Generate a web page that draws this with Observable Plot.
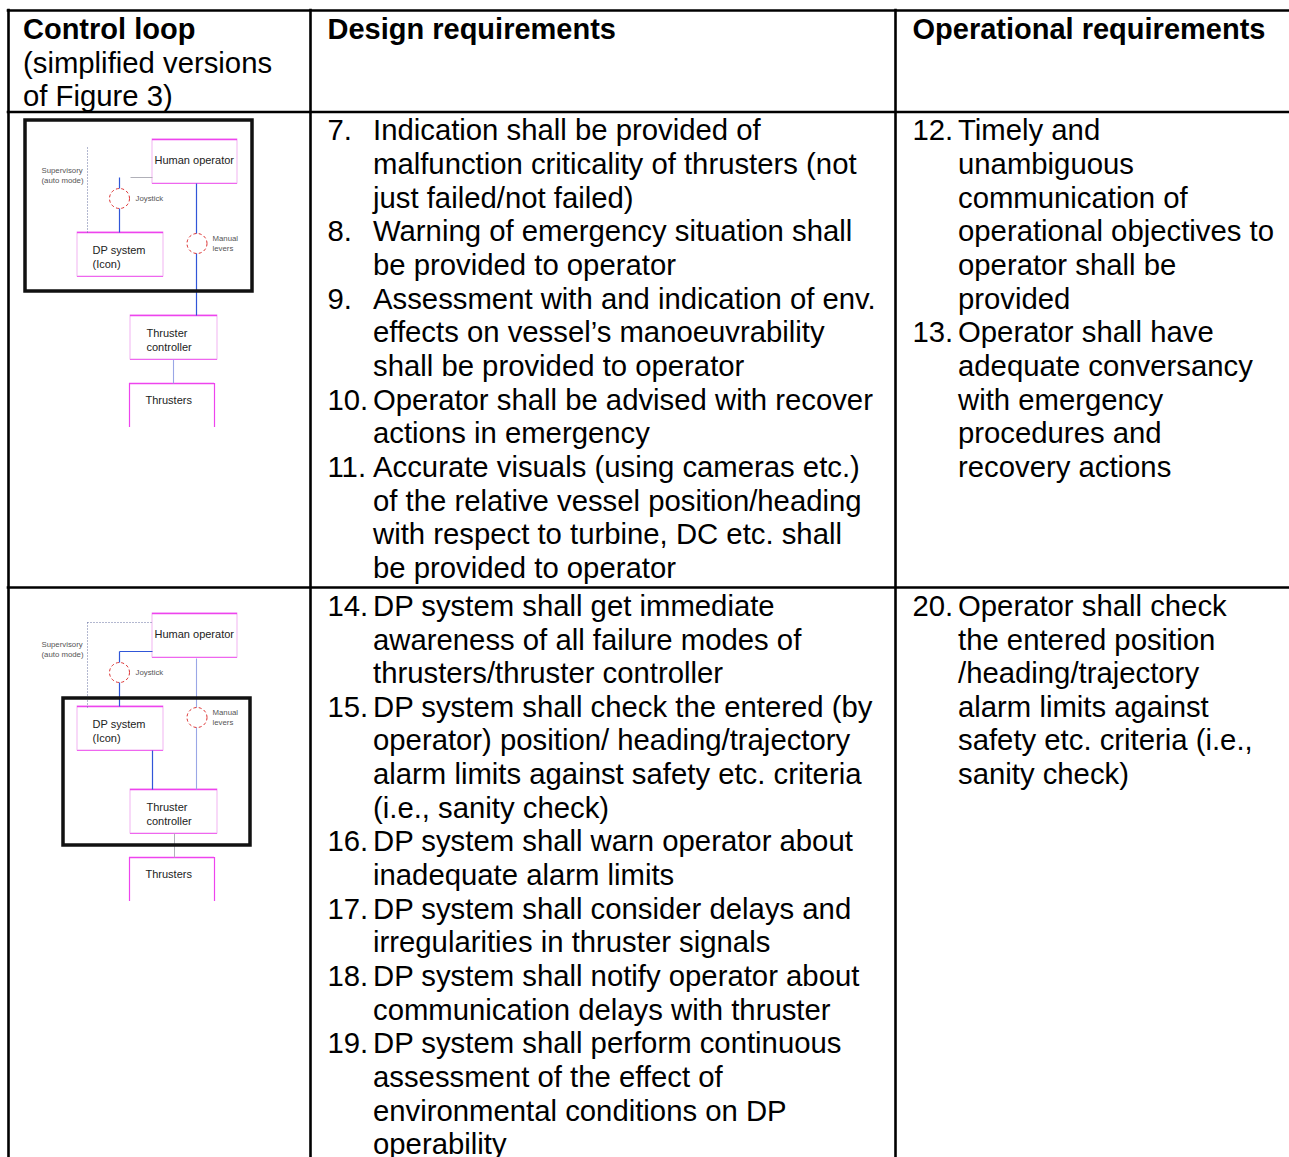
<!DOCTYPE html>
<html><head><meta charset="utf-8">
<script src="https://cdn.jsdelivr.net/npm/d3@7"></script>
<script src="https://cdn.jsdelivr.net/npm/@observablehq/plot@0.6"></script>
<style>html,body{margin:0;padding:0;background:#fff;} #chart svg{display:block}</style>
</head><body><div id="chart"></div>
<script>
// ---------- table content ----------
const headerTitles = ["Control loop", "Design requirements", "Operational requirements"];
const headerSubtitle = ["(simplified versions", "of Figure 3)"];

const designRow1 = [
  {num: "7.", lines: ["Indication shall be provided of", "malfunction criticality of thrusters (not", "just failed/not failed)"]},
  {num: "8.", lines: ["Warning of emergency situation shall", "be provided to operator"]},
  {num: "9.", lines: ["Assessment with and indication of env.", "effects on vessel\u2019s manoeuvrability", "shall be provided to operator"]},
  {num: "10.", lines: ["Operator shall be advised with recover", "actions in emergency"]},
  {num: "11.", lines: ["Accurate visuals (using cameras etc.)", "of the relative vessel position/heading", "with respect to turbine, DC etc. shall", "be provided to operator"]}
];
const operationalRow1 = [
  {num: "12.", lines: ["Timely and", "unambiguous", "communication of", "operational objectives to", "operator shall be", "provided"]},
  {num: "13.", lines: ["Operator shall have", "adequate conversancy", "with emergency", "procedures and", "recovery actions"]}
];
const designRow2 = [
  {num: "14.", lines: ["DP system shall get immediate", "awareness of all failure modes of", "thrusters/thruster controller"]},
  {num: "15.", lines: ["DP system shall check the entered (by", "operator) position/ heading/trajectory", "alarm limits against safety etc. criteria", "(i.e., sanity check)"]},
  {num: "16.", lines: ["DP system shall warn operator about", "inadequate alarm limits"]},
  {num: "17.", lines: ["DP system shall consider delays and", "irregularities in thruster signals"]},
  {num: "18.", lines: ["DP system shall notify operator about", "communication delays with thruster"]},
  {num: "19.", lines: ["DP system shall perform continuous", "assessment of the effect of", "environmental conditions on DP", "operability"]}
];
const operationalRow2 = [
  {num: "20.", lines: ["Operator shall check", "the entered position", "/heading/trajectory", "alarm limits against", "safety etc. criteria (i.e.,", "sanity check)"]}
];

// ---------- diagram content (simplified control loop) ----------
const diagramBoxes = [
  {name: "human", label: ["Human operator"]},
  {name: "dp", label: ["DP system", "(Icon)"]},
  {name: "tc", label: ["Thruster", "controller"]},
  {name: "thr", label: ["Thrusters"]}
];
const diagramSmallLabels = [
  {name: "sup", label: ["Supervisory", "(auto mode)"]},
  {name: "joy", label: ["Joystick"]},
  {name: "man", label: ["Manual", "levers"]}
];
// which block the thick "focus" frame surrounds in each row
const focusPerRow = ["operator", "dpsystem"];

// ---------- layout ----------
const W = 1289, H = 1157;
const colX = [8, 310, 895, 1300];
const rowY = [10, 111.5, 587, 1175];
const colPad = [14.5, 17, 17];
const indent = 45.5;
const lineH = 33.65;
const firstLine = 19;
const fsReg = 29.3, fsBold = 29;

// diagram geometry (local, row offset added later)
const boxGeom = {
  human: {x1: 152, x2: 237, y1: 139, y2: 183, tx: 154, ty: 160},
  dp:    {x1: 77,  x2: 163, y1: 232, y2: 276, tx: 92,  ty: 250},
  tc:    {x1: 130, x2: 217, y1: 315, y2: 359, tx: 146, ty: 333},
  thr:   {x1: 129, x2: 214, y1: 383, y2: 427, tx: 145, ty: 400, open: true}
};
const smallGeom = {sup: {tx: 41, ty: 170}, joy: {tx: 135, ty: 198}, man: {tx: 212, ty: 238}};
const focusGeom = {
  operator: {x1: 25, x2: 252, y1: 120, y2: 291},
  dpsystem: {x1: 63, x2: 250, y1: 224, y2: 371}
};
const rowOffset = [0, 474];

const textReg = [], textBold = [];
// header
headerTitles.forEach((t, c) => textBold.push({x: colX[c] + colPad[c], y: rowY[0] + firstLine, text: t}));
headerSubtitle.forEach((t, i) => textReg.push({x: colX[0] + colPad[0], y: rowY[0] + firstLine + (i + 1) * lineH, text: t}));
function addItems(items, c, r) {
  let k = 0;
  const x0 = colX[c] + colPad[c];
  items.forEach(it => {
    textReg.push({x: x0, y: rowY[r] + firstLine + k * lineH, text: it.num});
    it.lines.forEach(l => {
      textReg.push({x: x0 + indent, y: rowY[r] + firstLine + k * lineH, text: l});
      k++;
    });
  });
}
addItems(designRow1, 1, 1);
addItems(operationalRow1, 2, 1);
addItems(designRow2, 1, 2);
addItems(operationalRow2, 2, 2);

// table rules
const hRules = [
  {y: rowY[0], x1: colX[0] - 1.3, x2: W},
  {y: rowY[1], x1: colX[0] - 1.3, x2: W},
  {y: rowY[2], x1: colX[0] - 1.3, x2: W}
];
const vRules = [0, 1, 2].map(c => ({x: colX[c], y1: rowY[0] - 1.3, y2: H}));

// diagram data
const rects = [], topEdges = [], sideEdges = [], boxText = [], smallText = [], focus = [], circles = [];
const blueLinks = [], paleLinks = [], grayLinks = [], dotLinks = [];
rowOffset.forEach((off, r) => {
  diagramBoxes.forEach(b => {
    const g = boxGeom[b.name];
    if (!g.open) rects.push({x1: g.x1, x2: g.x2, y1: g.y1 + off, y2: g.y2 + off});
    topEdges.push({y: g.y1 + off, x1: g.x1, x2: g.x2});
    if (!g.open) topEdges.push({y: g.y2 + off, x1: g.x1, x2: g.x2, faint: true});
    if (g.open) { sideEdges.push({x: g.x1, y1: g.y1 + off, y2: g.y2 + off}); sideEdges.push({x: g.x2, y1: g.y1 + off, y2: g.y2 + off}); }
    b.label.forEach((t, i) => boxText.push({x: g.tx, y: g.ty + off + i * 13.5, text: t}));
  });
  diagramSmallLabels.forEach(s => {
    const g = smallGeom[s.name];
    s.label.forEach((t, i) => smallText.push({x: g.tx, y: g.ty + off + i * 9.5, text: t}));
  });
  const f = focusGeom[focusPerRow[r]];
  focus.push({x1: f.x1, x2: f.x2, y1: f.y1 + off, y2: f.y2 + off});
  circles.push({x: 119, y: 198 + off}, {x: 196.5, y: 243 + off});
  if (r === 0) {
    dotLinks.push({x1: 87, y1: 147 + off, x2: 87, y2: 232 + off});
    grayLinks.push({x1: 130, y1: 177 + off, x2: 152, y2: 177 + off});
    blueLinks.push({x1: 119, y1: 177 + off, x2: 119, y2: 232 + off});
    blueLinks.push({x1: 196, y1: 183 + off, x2: 196, y2: 315 + off});
    paleLinks.push({x1: 173, y1: 359 + off, x2: 173, y2: 383 + off});
  } else {
    dotLinks.push({x1: 87, y1: 148 + off, x2: 152, y2: 148 + off});
    dotLinks.push({x1: 87, y1: 148 + off, x2: 87, y2: 233 + off});
    blueLinks.push({x1: 152, y1: 177 + off, x2: 119, y2: 177 + off});
    blueLinks.push({x1: 119, y1: 177 + off, x2: 119, y2: 232 + off});
    blueLinks.push({x1: 152, y1: 276 + off, x2: 152, y2: 315 + off});
    paleLinks.push({x1: 196, y1: 184 + off, x2: 196, y2: 315 + off});
    grayLinks.push({x1: 174, y1: 359 + off, x2: 174, y2: 383 + off});
  }
});

const font = "Liberation Sans, Arial, Helvetica, sans-serif";
const chart = Plot.plot({
  width: W, height: H,
  margin: 0,
  x: {domain: [0, W], range: [0, W], axis: null},
  y: {domain: [0, H], range: [0, H], axis: null},
  style: {fontFamily: font, background: "#fff"},
  marks: [
    // diagrams
    Plot.rect(rects, {x1: "x1", x2: "x2", y1: "y1", y2: "y2", fill: "none", stroke: "#f1b3f1", strokeWidth: 1}),
    Plot.ruleY(topEdges.filter(d => !d.faint), {y: "y", x1: "x1", x2: "x2", stroke: "#ee44ee", strokeWidth: 1.3}),
    Plot.ruleY(topEdges.filter(d => d.faint), {y: "y", x1: "x1", x2: "x2", stroke: "#ef66ef", strokeWidth: 1.1}),
    Plot.ruleX(sideEdges, {x: "x", y1: "y1", y2: "y2", stroke: "#ee44ee", strokeWidth: 1.2}),
    Plot.link(dotLinks, {x1: "x1", y1: "y1", x2: "x2", y2: "y2", stroke: "#6670a0", strokeWidth: 1, strokeDasharray: "1,2"}),
    Plot.link(grayLinks, {x1: "x1", y1: "y1", x2: "x2", y2: "y2", stroke: "#b0b0b8", strokeWidth: 1}),
    Plot.link(paleLinks, {x1: "x1", y1: "y1", x2: "x2", y2: "y2", stroke: "#9aa6e6", strokeWidth: 1.1}),
    Plot.link(blueLinks, {x1: "x1", y1: "y1", x2: "x2", y2: "y2", stroke: "#3056d8", strokeWidth: 1.2}),
    Plot.dot(circles, {x: "x", y: "y", r: 10, fill: "#fff", stroke: "#dd3333", strokeWidth: 1, strokeDasharray: "3,2.4"}),
    Plot.rect(focus, {x1: "x1", x2: "x2", y1: "y1", y2: "y2", fill: "none", stroke: "#111", strokeWidth: 3.5}),
    Plot.text(boxText, {x: "x", y: "y", text: "text", textAnchor: "start", lineAnchor: "middle", fontSize: 11, fill: "#222"}),
    Plot.text(smallText, {x: "x", y: "y", text: "text", textAnchor: "start", lineAnchor: "middle", fontSize: 7.8, fill: "#555"}),
    // table
    Plot.ruleY(hRules, {y: "y", x1: "x1", x2: "x2", stroke: "#000", strokeWidth: 2.6}),
    Plot.ruleX(vRules, {x: "x", y1: "y1", y2: "y2", stroke: "#000", strokeWidth: 2.6}),
    Plot.text(textBold, {x: "x", y: "y", text: "text", textAnchor: "start", lineAnchor: "middle", fontSize: fsBold, fontWeight: "bold", fill: "#000"}),
    Plot.text(textReg, {x: "x", y: "y", text: "text", textAnchor: "start", lineAnchor: "middle", fontSize: fsReg, fill: "#000"})
  ]
});
document.getElementById("chart").appendChild(chart);
</script>
</body></html>
